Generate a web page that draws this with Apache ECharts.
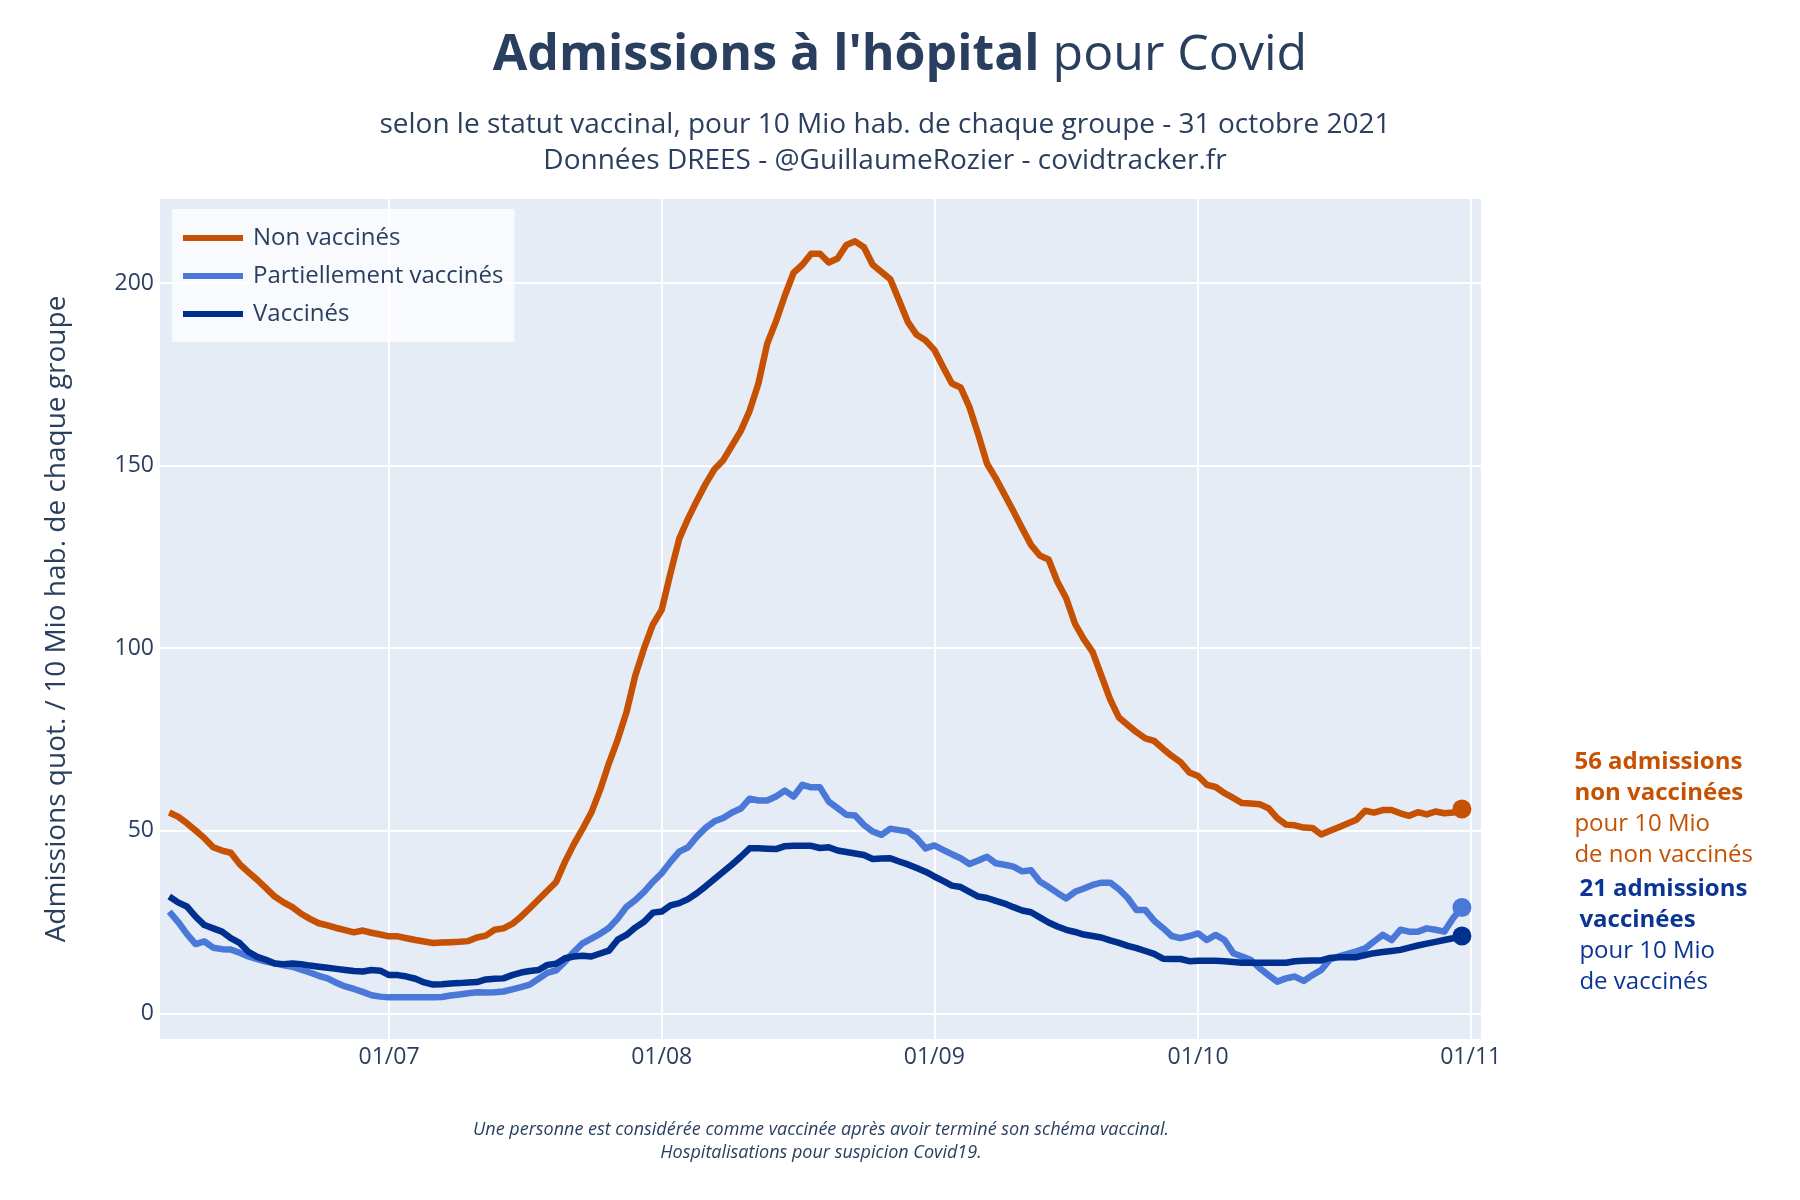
<!DOCTYPE html>
<html><head><meta charset="utf-8">
<script src="https://cdn.jsdelivr.net/npm/echarts@6/dist/echarts.min.js"></script>
<style>html,body{margin:0;padding:0;background:#fff}#c{width:1800px;height:1200px}</style>
</head><body><div id="c"></div><script>
// ---- DATA (daily values, 6 June -> 31 October 2021) ----
const startDate = '2021-06-06';
const nonVaccines = [
55.0,53.9,52.1,50.1,48.0,45.5,44.6,44.0,40.9,38.7,36.6,34.3,32.0,30.4,29.1,27.3,25.9,24.7,24.1,23.4,
22.8,22.2,22.7,22.1,21.6,21.1,21.1,20.6,20.1,19.7,19.3,19.4,19.5,19.6,19.8,20.8,21.3,22.9,23.3,24.5,
26.5,28.8,31.2,33.6,36.0,41.5,46.3,50.5,55.0,61.2,68.5,75.0,82.5,92.5,100.0,106.5,110.5,120.5,130.0,135.5,
140.4,145.0,149.0,151.5,155.5,159.5,165.0,172.5,183.4,189.5,196.5,202.8,205.0,208.0,208.0,205.6,206.7,210.4,211.4,209.8,
205.0,203.0,201.0,195.2,189.3,185.8,184.3,181.7,177.0,172.5,171.4,166.0,158.5,150.5,146.5,142.0,137.5,132.8,128.3,125.4,
124.3,118.2,113.7,106.7,102.5,99.0,92.5,86.0,81.0,79.0,77.0,75.3,74.6,72.5,70.5,68.8,66.0,65.0,62.6,62.0,
60.3,59.0,57.6,57.5,57.3,56.2,53.5,51.7,51.5,50.9,50.8,49.0,50.0,51.0,52.0,53.0,55.5,55.0,55.7,55.7,
54.8,54.1,55.1,54.5,55.3,54.8,55.0,56.0];
const partiels = [
27.9,25.1,21.8,19.0,19.7,18.0,17.6,17.5,16.6,15.6,14.9,14.2,13.7,13.2,12.8,12.0,11.2,10.3,9.6,8.4,
7.4,6.7,5.9,5.0,4.6,4.4,4.4,4.4,4.4,4.4,4.4,4.5,4.9,5.2,5.5,5.8,5.7,5.8,6.0,6.6,
7.2,7.9,9.5,11.1,11.8,14.2,16.8,19.2,20.5,21.8,23.4,26.0,29.2,31.0,33.3,36.0,38.4,41.5,44.3,45.5,
48.4,50.8,52.6,53.5,55.0,56.1,58.8,58.3,58.3,59.4,61.0,59.4,62.6,61.9,61.9,58.0,56.2,54.4,54.2,51.6,
49.8,48.9,50.6,50.2,49.8,48.0,45.2,46.0,44.8,43.6,42.5,40.9,41.9,42.9,41.1,40.7,40.2,38.9,39.2,36.1,
34.6,33.0,31.5,33.3,34.2,35.2,35.8,35.8,34.0,31.6,28.3,28.3,25.4,23.4,21.2,20.6,21.2,21.9,20.1,21.5,
20.1,16.5,15.6,14.6,12.4,10.5,8.7,9.6,10.1,8.9,10.5,11.9,14.8,15.6,16.3,17.0,17.8,19.7,21.5,20.1,
22.9,22.4,22.4,23.3,22.9,22.4,26.1,29.0];
const vaccines = [
32.0,30.4,29.3,26.5,24.2,23.3,22.4,20.6,19.3,16.9,15.5,14.7,13.7,13.5,13.7,13.5,13.1,12.8,12.5,12.2,
11.9,11.6,11.5,11.9,11.7,10.5,10.5,10.1,9.5,8.5,7.9,8.0,8.2,8.3,8.5,8.6,9.3,9.5,9.6,10.5,
11.2,11.6,11.9,13.3,13.6,15.1,15.6,15.8,15.6,16.4,17.2,20.2,21.5,23.5,25.1,27.6,27.9,29.6,30.2,31.3,
32.9,34.8,36.8,38.8,40.8,42.9,45.2,45.2,45.1,45.0,45.8,45.9,45.9,45.9,45.3,45.5,44.6,44.2,43.8,43.4,
42.3,42.4,42.5,41.6,40.8,39.8,38.8,37.5,36.3,35.0,34.6,33.3,32.0,31.6,30.8,30.1,29.1,28.2,27.7,26.3,
24.9,23.8,22.9,22.3,21.6,21.2,20.8,20.0,19.3,18.5,17.9,17.1,16.3,15.0,14.9,14.9,14.3,14.4,14.4,14.4,
14.3,14.1,13.9,13.9,13.9,13.9,13.9,13.9,14.3,14.4,14.5,14.5,15.2,15.4,15.4,15.4,16.0,16.5,16.8,17.1,
17.4,18.0,18.6,19.1,19.6,20.1,20.6,21.2];
const tickDates = ['2021-07-01','2021-08-01','2021-09-01','2021-10-01','2021-11-01'];
const yTicks = [0, 50, 100, 150, 200];
const seriesNames = ['Non vaccinés', 'Partiellement vaccinés', 'Vaccinés'];

// ---- helpers ----
const DAY = 86400000;
const t0 = Date.parse(startDate + 'T00:00:00Z');
const dayIndex = s => (Date.parse(s + 'T00:00:00Z') - t0) / DAY;
const fmtDate = idx => { const d = new Date(t0 + Math.round(idx) * DAY);
  return String(d.getUTCDate()).padStart(2,'0') + '/' + String(d.getUTCMonth()+1).padStart(2,'0'); };
const toPairs = arr => arr.map((v, i) => [i, v]);
const last = arr => [arr.length - 1, arr[arr.length - 1]];

const C_NON = '#c65102', C_PART = '#4a78d9', C_VAC = '#00308f', C_VAC_TXT = '#0a3594', TXT = '#2a3f5f';
const FONT = '"Open Sans", "Noto Sans", sans-serif';

const chart = echarts.init(document.getElementById('c'), null, {renderer: 'canvas'});
const lineS = (name, arr, color) => ({
  name, type: 'line', data: toPairs(arr), symbol: 'none', showSymbol: false,
  lineStyle: {color, width: 6.5, join: 'round'}, itemStyle: {color}, z: 2, animation: false
});
const endS = (name, arr, color, label) => ({
  name, type: 'scatter', data: [last(arr)], symbolSize: 19, itemStyle: {color, opacity: 1}, z: 3,
  animation: false, label: label || {show: false}
});
const annot = (dist, lines, color) => ({
  show: true, position: 'right', distance: dist, align: 'left', verticalAlign: 'middle', opacity: 1,
  formatter: () => lines.map((l, i) => (i < 2 ? '{b|' : '{r|') + l + '}').join('\n'),
  rich: {b: {fontFamily: FONT, fontWeight: 'bold', fontSize: 24, lineHeight: 31, color},
         r: {fontFamily: FONT, fontSize: 24, lineHeight: 31, color}}
});

const option = {
  backgroundColor: '#ffffff',
  animation: false,
  textStyle: {fontFamily: FONT},
  grid: {left: 160, right: 319, top: 199, bottom: 161, show: true, backgroundColor: '#e5ecf6', borderWidth: 0, containLabel: false},
  legend: {
    data: seriesNames, orient: 'vertical', left: 172, top: 209,
    padding: [17, 11, 16, 11], backgroundColor: 'rgba(255,255,255,0.75)',
    icon: 'rect', itemWidth: 60, itemHeight: 6, itemGap: 14,
    textStyle: {fontFamily: FONT, fontSize: 24, lineHeight: 24, color: TXT, padding: [0, 0, 0, 5]}
  },
  xAxis: {
    type: 'value', min: dayIndex('2021-06-05') - 0.05, max: dayIndex('2021-11-01') + 1.17,
    axisLine: {show: false}, axisTick: {show: false, customValues: tickDates.map(dayIndex)},
    axisLabel: {customValues: tickDates.map(dayIndex), formatter: v => fmtDate(v), fontFamily: FONT, fontSize: 23, color: TXT, margin: 7},
    splitLine: {show: true, lineStyle: {color: '#ffffff', width: 2}}
  },
  yAxis: {
    type: 'value', min: -7, max: 223,
    name: 'Admissions quot. / 10 Mio hab. de chaque groupe', nameLocation: 'middle', nameGap: 89, nameRotate: 90,
    nameTextStyle: {fontFamily: FONT, fontSize: 28, color: TXT},
    axisLine: {show: false}, axisTick: {show: false, customValues: yTicks},
    axisLabel: {customValues: yTicks, fontFamily: FONT, fontSize: 23, color: TXT, margin: 6},
    splitLine: {show: true, lineStyle: {color: '#ffffff', width: 2}}
  },
  series: [
    lineS(seriesNames[0], nonVaccines, C_NON),
    lineS(seriesNames[1], partiels, C_PART),
    lineS(seriesNames[2], vaccines, C_VAC),
    endS('fin_non', nonVaccines, C_NON,
      annot(103, [Math.round(last(nonVaccines)[1]) + ' admissions', 'non vaccinées', 'pour 10 Mio', 'de non vaccinés'], C_NON)),
    endS('fin_part', partiels, C_PART),
    endS('fin_vac', vaccines, C_VAC,
      annot(108, [Math.round(last(vaccines)[1]) + ' admissions', 'vaccinées', 'pour 10 Mio', 'de vaccinés'], C_VAC_TXT))
  ],
  graphic: [
    {type: 'text', x: 900, y: 56, style: {
      text: "{b|Admissions à l'hôpital }{r|pour Covid}", align: 'center', verticalAlign: 'middle',
      rich: {b: {fontFamily: FONT, fontWeight: 'bold', fontSize: 50, fill: TXT, color: TXT},
             r: {fontFamily: FONT, fontSize: 50, fill: TXT, color: TXT}}}},
    {type: 'text', x: 885, y: 125, style: {text: 'selon le statut vaccinal, pour 10 Mio hab. de chaque groupe - 31 octobre 2021',
      align: 'center', verticalAlign: 'middle', font: '28px "Open Sans"', fill: TXT}},
    {type: 'text', x: 885, y: 161.5, style: {text: 'Données DREES - @GuillaumeRozier - covidtracker.fr',
      align: 'center', verticalAlign: 'middle', font: '28px "Open Sans"', fill: TXT}},
    {type: 'text', x: 821, y: 1130, style: {text: 'Une personne est considérée comme vaccinée après avoir terminé son schéma vaccinal.',
      align: 'center', verticalAlign: 'middle', font: 'italic 18px "Open Sans"', fill: TXT}},
    {type: 'text', x: 821, y: 1153, style: {text: 'Hospitalisations pour suspicion Covid19.',
      align: 'center', verticalAlign: 'middle', font: 'italic 18px "Open Sans"', fill: TXT}}
  ]
};
chart.setOption(option);
</script></body></html>
